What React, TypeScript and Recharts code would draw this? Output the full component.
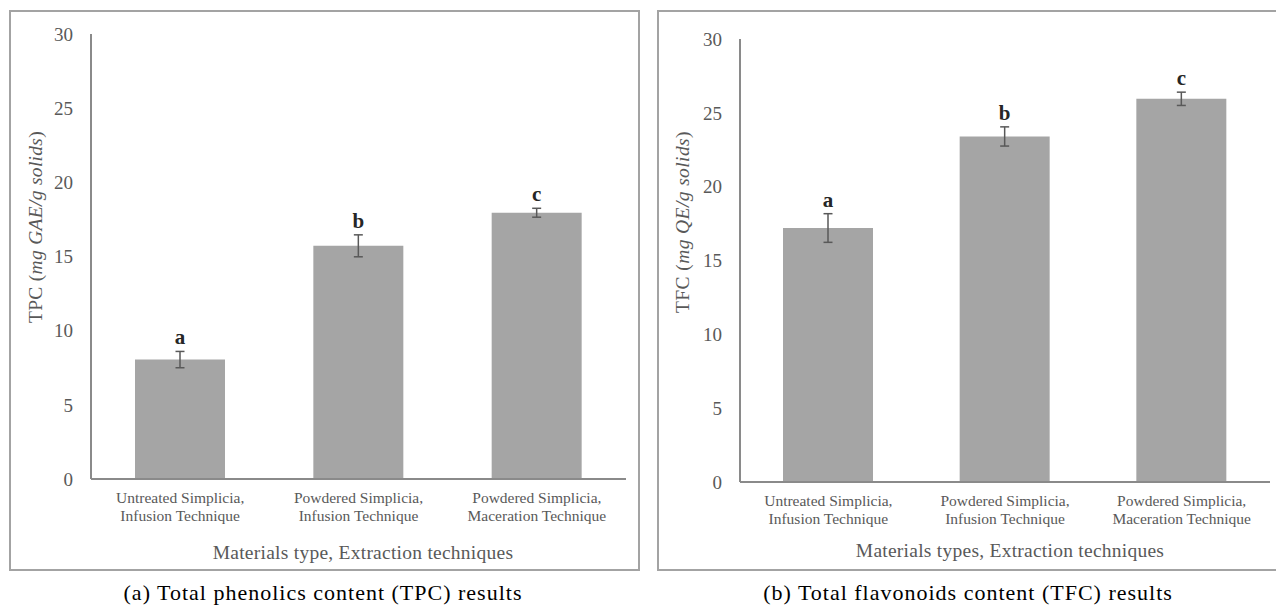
import React from "react";
import { BarChart, Bar, XAxis, YAxis, ErrorBar, LabelList } from "recharts";

const categoryLine1 = ["Untreated Simplicia,", "Powdered Simplicia,", "Powdered Simplicia,"];
const categoryLine2 = ["Infusion Technique", "Infusion Technique", "Maceration Technique"];
const tpcValues = [8.05, 15.72, 17.95];
const tpcErrors = [0.55, 0.74, 0.3];
const tfcValues = [17.2, 23.4, 25.95];
const tfcErrors = [0.97, 0.65, 0.45];
const letters = ["a", "b", "c"];
const yTicks = [0, 5, 10, 15, 20, 25, 30];

const FONT = "Liberation Serif";
const AXIS_GRAY = "#8a8a8a";
const TEXT_GRAY = "#595959";

const buildData = (values: number[], errors: number[]) =>
  values.map((v, i) => ({
    cat: categoryLine1[i] + " " + categoryLine2[i],
    idx: i,
    value: v,
    err: errors[i],
  }));

const tpcData = buildData(tpcValues, tpcErrors);
const tfcData = buildData(tfcValues, tfcErrors);

const CategoryTick = (props: any) => {
  const { x, y, payload } = props;
  const i = payload.index;
  return (
    <g transform={`translate(${x},${y})`}>
      <text textAnchor="middle" fill={TEXT_GRAY} fontSize={15.5} style={{ fontFamily: FONT }}>
        <tspan x={0} dy={24}>{categoryLine1[i]}</tspan>
        <tspan x={0} dy={18}>{categoryLine2[i]}</tspan>
      </text>
    </g>
  );
};

const makeLetter = (values: number[], errors: number[]) => (props: any) => {
  const vb = props.viewBox || {};
  const x = props.x ?? vb.x;
  const y = props.y ?? vb.y;
  const width = props.width ?? vb.width;
  const height = props.height ?? vb.height;
  const i = props.index;
  const pxPer = height / values[i];
  const ty = y - errors[i] * pxPer - 14;
  return (
    <text
      x={x + width / 2}
      y={ty}
      textAnchor="middle"
      dominantBaseline="central"
      fontSize={21}
      fontWeight="bold"
      style={{ fontFamily: FONT }}
      fill="#262626"
    >
      {letters[i]}
    </text>
  );
};

const Panel = (p: {
  data: any[];
  values: number[];
  errors: number[];
  width: number;
  margin: any;
}) => (
  <BarChart width={p.width} height={605} data={p.data} margin={p.margin} barCategoryGap={0} style={{ fontFamily: FONT }}>
    <XAxis
      dataKey="cat"
      tick={<CategoryTick />}
      tickLine={false}
      tickSize={0}
      tickMargin={0}
      height={40}
      axisLine={{ stroke: AXIS_GRAY, strokeWidth: 2 }}
      interval={0}
    />
    <XAxis
      xAxisId="top"
      orientation="top"
      dataKey="cat"
      tick={false}
      tickLine={false}
      height={0}
      axisLine={{ stroke: AXIS_GRAY, strokeWidth: 2 }}
    />
    <YAxis
      domain={[0, 30]}
      ticks={yTicks}
      tickLine={false}
      tickSize={0}
      tickMargin={18}
      width={60}
      axisLine={{ stroke: AXIS_GRAY, strokeWidth: 2 }}
      tick={{ fill: TEXT_GRAY, fontSize: 19, style: { fontFamily: FONT } }}
    />
    <YAxis
      yAxisId="right"
      orientation="right"
      domain={[0, 30]}
      type="number"
      tick={false}
      tickLine={false}
      width={0}
      axisLine={{ stroke: AXIS_GRAY, strokeWidth: 2 }}
    />
    <Bar dataKey="value" fill="#a5a5a5" barSize={90} isAnimationActive={false}>
      <ErrorBar dataKey="err" width={4.5} stroke="#595959" strokeWidth={1.5} direction="y" />
      <LabelList dataKey="value" content={makeLetter(p.values, p.errors)} />
    </Bar>
  </BarChart>
);

const T = (props: {
  x: number;
  y: number;
  size: number;
  spacing?: number;
  color?: string;
  rotate?: boolean;
  children: any;
}) => (
  <div
    style={{
      position: "absolute",
      left: props.x,
      top: props.y,
      transform: `translate(-50%, -50%)${props.rotate ? " rotate(-90deg)" : ""}`,
      whiteSpace: "nowrap",
      fontSize: props.size,
      letterSpacing: props.spacing || 0,
      lineHeight: 1,
      color: props.color || TEXT_GRAY,
      fontFamily: FONT,
    }}
  >
    {props.children}
  </div>
);

export default function App() {
  return (
    <div
      style={{
        position: "absolute",
        left: 0,
        top: 0,
        width: 1276,
        height: 605,
        background: "#fff",
        overflow: "hidden",
        fontFamily: FONT,
      }}
    >
      <div style={{ position: "absolute", left: 9, top: 10, width: 631, height: 561, border: "2px solid #a3a3a3", boxSizing: "border-box" }} />
      <div style={{ position: "absolute", left: 657, top: 10, width: 640, height: 561, border: "2px solid #a3a3a3", boxSizing: "border-box" }} />

      <div style={{ position: "absolute", left: 0, top: 0 }}>
        <Panel data={tpcData} values={tpcValues} errors={tpcErrors} width={640} margin={{ top: 34, right: 14, bottom: 86, left: 31 }} />
      </div>
      <div style={{ position: "absolute", left: 650, top: 0 }}>
        <Panel data={tfcData} values={tfcValues} errors={tfcErrors} width={626} margin={{ top: 39, right: 6, bottom: 83, left: 30 }} />
      </div>

      <T x={36} y={227} size={19.5} spacing={0.3} rotate>
        TPC (<i>mg GAE/g solids</i>)
      </T>
      <T x={683} y={222} size={19.5} spacing={0.4} rotate>
        TFC (<i>mg QE/g solids</i>)
      </T>
      <T x={363} y={553} size={19.5} spacing={0.25}>Materials type, Extraction techniques</T>
      <T x={1010} y={551} size={19.5} spacing={0.25}>Materials types, Extraction techniques</T>
      <T x={323} y={593} size={22} spacing={1} color="#000">(a) Total phenolics content (TPC) results</T>
      <T x={968} y={593} size={22} spacing={1} color="#000">(b) Total flavonoids content (TFC) results</T>
    </div>
  );
}
